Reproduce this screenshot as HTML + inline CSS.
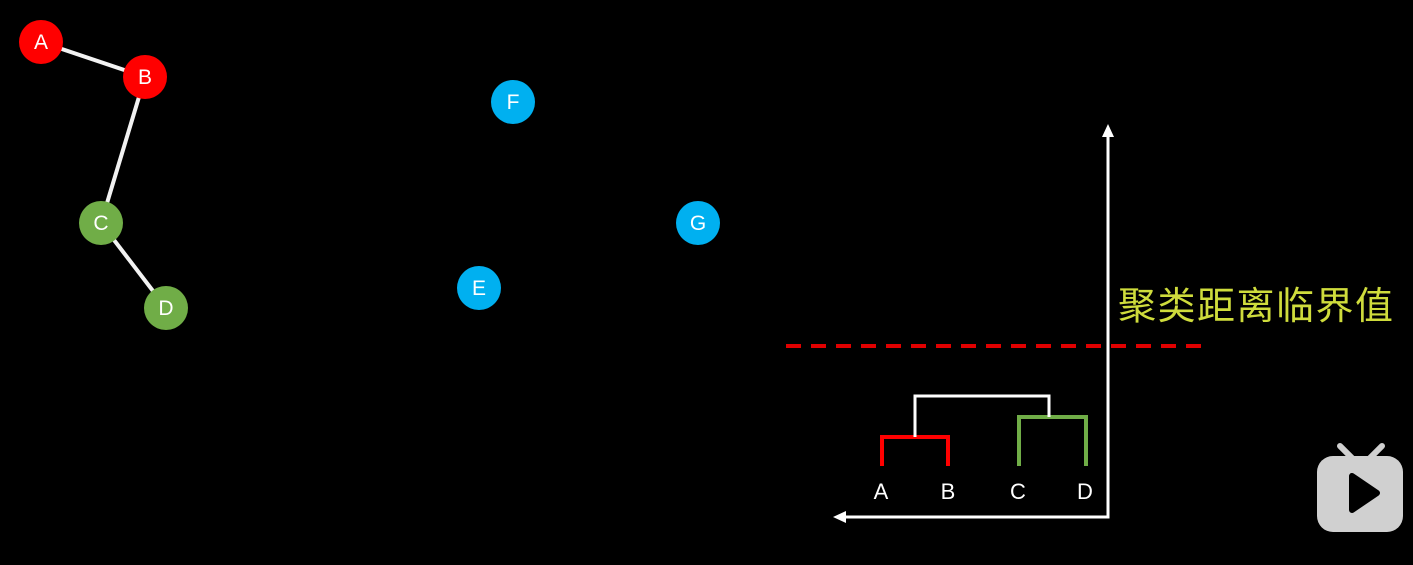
<!DOCTYPE html>
<html><head><meta charset="utf-8"><style>
html,body{margin:0;padding:0;background:#000;width:1413px;height:565px;overflow:hidden}
</style></head><body>
<svg width="1413" height="565" viewBox="0 0 1413 565" xmlns="http://www.w3.org/2000/svg" font-family="Liberation Sans, sans-serif">
<rect width="1413" height="565" fill="#000"/>
<g stroke="#f2f2f2" stroke-width="4">
<line x1="41" y1="42" x2="145" y2="77"/>
<line x1="145" y1="77" x2="101" y2="223"/>
<line x1="101" y1="223" x2="166" y2="308"/>
</g>
<g font-size="21" fill="#fff" text-anchor="middle">
<circle cx="41" cy="42" r="22" fill="#ff0000"/><text x="41" y="49">A</text>
<circle cx="145" cy="77" r="22" fill="#ff0000"/><text x="145" y="84">B</text>
<circle cx="101" cy="223" r="22" fill="#70ad47"/><text x="101" y="230">C</text>
<circle cx="166" cy="308" r="22" fill="#70ad47"/><text x="166" y="315">D</text>
<circle cx="513" cy="102" r="22" fill="#00b0f0"/><text x="513" y="109">F</text>
<circle cx="698" cy="223" r="22" fill="#00b0f0"/><text x="698" y="230">G</text>
<circle cx="479" cy="288" r="22" fill="#00b0f0"/><text x="479" y="295">E</text>
</g>
<line x1="786" y1="346" x2="1208" y2="346" stroke="#e00000" stroke-width="4" stroke-dasharray="15,10"/>
<g stroke="#fff" stroke-width="3" fill="none">
<polyline points="1108,134 1108,517 842,517"/>
</g>
<polygon points="1108,124 1102,137 1114,137" fill="#fff"/>
<polygon points="833,517 846,511 846,523" fill="#fff"/>
<polyline points="882,466 882,437 948,437 948,466" stroke="#ff0000" stroke-width="4" fill="none"/>
<polyline points="1019,466 1019,417 1086,417 1086,466" stroke="#70ad47" stroke-width="4" fill="none"/>
<polyline points="915,437 915,396 1049,396 1049,417" stroke="#fff" stroke-width="3" fill="none"/>
<g font-size="22" fill="#fff" text-anchor="middle">
<text x="881" y="499">A</text><text x="948" y="499">B</text><text x="1018" y="499">C</text><text x="1085" y="499">D</text>
</g>
<text x="1118" y="319" font-size="38" letter-spacing="1.5" fill="#cfdc3c" font-family="Liberation Sans, Noto Sans CJK SC, sans-serif">聚类距离临界值</text>
<g fill="#d0d0d0">
<line x1="1340" y1="446" x2="1352" y2="458" stroke="#d0d0d0" stroke-width="6" stroke-linecap="round"/>
<line x1="1382" y1="446" x2="1370" y2="458" stroke="#d0d0d0" stroke-width="6" stroke-linecap="round"/>
<rect x="1317" y="456" width="86" height="76" rx="16"/>
</g>
<polygon points="1352,476 1352,510 1377,493" fill="#000" stroke="#000" stroke-width="6" stroke-linejoin="round"/>
</svg>
</body></html>
